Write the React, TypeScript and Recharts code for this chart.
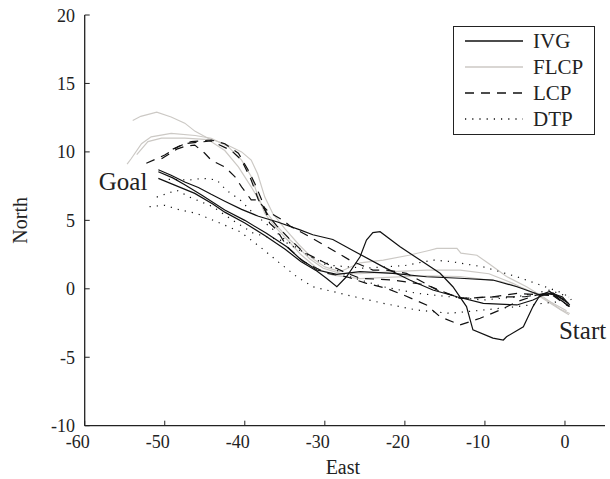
import {
  Label,
  Legend,
  Line,
  LineChart,
  ReferenceDot,
  XAxis,
  YAxis,
} from "recharts";

type Pt = { x: number; y: number };

const FONT = '"Liberation Serif", "Times New Roman", serif';
const INK = "#222";

const X_TICKS = [-60, -50, -40, -30, -20, -10, 0];
const Y_TICKS = [-10, -5, 0, 5, 10, 15, 20];

// trajectories, east / north in metres, goal end first
const ivgRun1: [number, number][] = [
  [-50.8, 8.7], [-49.2, 8.3], [-47.5, 7.8], [-45.8, 7.4], [-44.2, 6.9],
  [-42.5, 6.4], [-40.4, 5.8], [-38.3, 5.3], [-36, 4.9], [-33.1, 4.3],
  [-31.5, 3.95], [-29, 3.6], [-26.5, 2.8], [-22.7, 1.6], [-19.4, 0.64],
  [-16.5, -0.09], [-13.5, -0.58], [-10.2, -1.06], [-6, -1.18], [-4, -0.82],
  [-2.7, -0.45], [-1.5, -0.35], [-0.3, -0.6], [0.6, -1.2],
];
const ivgRun2: [number, number][] = [
  [-50.8, 8.55], [-49, 8.1], [-47.5, 7.6], [-45.4, 6.85], [-42.5, 5.76],
  [-40, 5.0], [-37.3, 4.05], [-34.75, 3.07], [-33.1, 2.2], [-31, 1.37],
  [-28.5, 1.05], [-25.6, 1.25], [-21.5, 1.13], [-17.3, 0.88], [-13.1, 0.77],
  [-9, 0.64], [-6, 0.15], [-3.1, -0.45], [-1.5, -0.3], [0.5, -1.1],
];
const ivgRun3: [number, number][] = [
  [-50.8, 8.07], [-48.3, 7.46], [-46.25, 6.97], [-44, 6.2], [-42.5, 5.6],
  [-40, 4.8], [-37.5, 3.9], [-35, 2.9], [-33, 2.0], [-31, 1.3],
  [-29.8, 0.77], [-28.5, 0.15], [-27.3, 0.88], [-25.6, 2.34], [-24.8, 3.56],
  [-24, 4.1], [-23.1, 4.17], [-20.6, 3.07], [-18.1, 2.1], [-15.6, 1.13],
  [-14, 0.15], [-12.3, -1.3], [-11.5, -3.0], [-9, -3.6], [-7.7, -3.74],
  [-7.3, -3.5], [-5.2, -2.77], [-4, -1.3], [-3.1, -0.45], [-1.9, -0.2],
  [-0.6, -0.8], [0.6, -1.3],
];

const flcpRun1: [number, number][] = [
  [-54, 12.3], [-53, 12.6], [-51, 12.9], [-49.2, 12.55], [-47.5, 12.1],
  [-46.2, 11.5], [-44.6, 11.0], [-42.5, 10.6], [-40.4, 10.0], [-39.2, 9.4],
  [-38.4, 8.4], [-37.5, 6.7], [-36.5, 5.5], [-35, 4.4], [-33.2, 3.2],
  [-31.5, 2.2], [-30, 1.6], [-28.1, 1.25], [-25.6, 1.9], [-22.7, 2.1],
  [-19.5, 2.45], [-17, 2.8], [-16, 2.95], [-13.5, 2.95], [-13, 2.6],
  [-11, 2.45], [-9.4, 1.8], [-7.3, 0.9], [-4.8, 0.15], [-2.7, -0.6],
  [-0.6, -1.5], [0.6, -1.8],
];
const flcpRun2: [number, number][] = [
  [-54.7, 9.1], [-54.2, 9.5], [-52.9, 10.6], [-51.7, 11.1], [-49.2, 11.35],
  [-46.2, 11.2], [-44.2, 11.0], [-42.1, 10.4], [-40.4, 9.4], [-39.2, 8.2],
  [-38.3, 6.7], [-37.5, 5.5], [-36, 4.4], [-34.4, 3.4], [-33, 2.5],
  [-31, 1.5], [-29, 1.0], [-25.6, 0.75], [-21.5, 0.85], [-17.3, 0.95],
  [-13.1, 0.9], [-8.1, 0.55], [-5, 0], [-2.3, -0.8], [0.2, -1.6],
];
const flcpRun3: [number, number][] = [
  [-53.5, 9.8], [-52.1, 10.75], [-50.4, 11.0], [-47.5, 11.0], [-44.6, 10.9],
  [-42.5, 10.1], [-40.8, 8.9], [-39.2, 7.45], [-37.5, 5.75], [-36, 4.6],
  [-34.4, 3.6], [-33.1, 2.9], [-31.9, 2.2], [-30.2, 1.5], [-28.1, 1.13],
  [-25.6, 1.1], [-21.5, 1.25], [-17.3, 1.37], [-13.1, 1.37], [-9.5, 1.1],
  [-6.5, 0.4], [-3.1, -0.58], [-0.5, -1.55], [0.5, -1.9],
];

const lcpRun1: [number, number][] = [
  [-52.3, 9.17], [-50, 9.77], [-48.3, 10.4], [-46.7, 10.75], [-44.2, 10.87],
  [-42.5, 10.6], [-40.8, 9.9], [-39.6, 8.7], [-38.75, 7.7], [-37.9, 6.5],
  [-36.9, 4.8], [-36, 4.3], [-34.75, 3.1], [-32.7, 2.0], [-29.8, 1.13],
  [-27.3, 0.88], [-24.8, 0.4], [-22.3, 0.04], [-20.2, -0.45], [-17.3, -1.18],
  [-15.6, -2.04], [-13.1, -2.64], [-10.6, -2.15], [-8.1, -1.55], [-6, -0.94],
  [-3.5, -0.45], [-1.5, -0.4], [0.3, -1.2],
];
const lcpRun2: [number, number][] = [
  [-50.4, 9.5], [-48.5, 10.2], [-47.5, 10.4], [-46.25, 10.5], [-45, 9.9],
  [-44.2, 9.4], [-42.5, 8.9], [-41.25, 8.2], [-40.4, 7.45], [-39.2, 6.5],
  [-38.5, 6.5], [-37, 5.6], [-35.2, 5.0], [-34.4, 4.6], [-31.9, 3.8],
  [-29.8, 3.1], [-26.9, 2.1], [-24, 1.37], [-22.3, 1.37], [-19.8, 1.13],
  [-15.6, -0.2], [-12.7, -0.7], [-9, -0.58], [-6, -0.33], [-3.1, -0.45],
  [-1, -0.5], [0.5, -1.0],
];
const lcpRun3: [number, number][] = [
  [-49, 10.2], [-47.5, 10.6], [-44.2, 10.8], [-41.7, 10.1], [-40.4, 9.4],
  [-39.2, 7.95], [-38.3, 6.5], [-37, 5.3], [-36, 4.6], [-34.5, 3.7],
  [-32.7, 2.7], [-30, 1.9], [-27.5, 1.2], [-25.6, 0.77], [-21.5, 0.64],
  [-17.3, 0.28], [-13.1, -0.7], [-9, -0.6], [-5, -0.58], [-2, -0.3],
  [0.5, -1.3],
];

const dtpRun1: [number, number][] = [
  [-49.5, 8.0], [-46.9, 7.95], [-45.25, 8.07], [-43.5, 7.95], [-42.3, 7.2],
  [-40.6, 6.5], [-38.9, 5.5], [-37, 4.6], [-35, 3.6], [-32, 2.4],
  [-29, 1.7], [-25, 1.5], [-20, 1.7], [-16.5, 2.1], [-14.4, 2.0],
  [-10.2, 1.6], [-6, 0.88], [-3.1, 0.28], [-0.2, -0.33], [0.8, -0.8],
];
const dtpRun2: [number, number][] = [
  [-51, 6.7], [-48.5, 7.2], [-46.9, 6.7], [-44, 6.0], [-41.5, 5.0],
  [-38.9, 4.05], [-35.2, 3.5], [-31, 2.1], [-26.9, 0.88], [-22.7, 0.15],
  [-18.5, -0.33], [-14.4, -0.58], [-10.2, -0.82], [-6, -0.58], [-1.9, -0.1],
  [0.5, -0.6],
];
const dtpRun3: [number, number][] = [
  [-51.9, 6.0], [-50, 6.1], [-48.1, 5.76], [-46, 5.5], [-43.1, 4.8],
  [-40.6, 4.17], [-38.1, 3.07], [-35.6, 1.86], [-33.5, 0.88], [-31.5, 0.15],
  [-29, -0.2], [-26.9, -0.5], [-22.7, -1.06], [-18.5, -1.55], [-14.4, -1.79],
  [-10.2, -1.55], [-6, -1.3], [-2.7, -1.06], [0, -0.9],
];

const toPts = (run: [number, number][]): Pt[] =>
  run.map(([x, y]) => ({ x, y }));

type Method = {
  name: string;
  stroke: string;
  dash?: string;
  runs: [number, number][][];
};

const METHODS: Method[] = [
  { name: "IVG", stroke: "#111", runs: [ivgRun1, ivgRun2, ivgRun3] },
  { name: "FLCP", stroke: "#ccc9c5", runs: [flcpRun1, flcpRun2, flcpRun3] },
  { name: "LCP", stroke: "#111", dash: "9 7", runs: [lcpRun1, lcpRun2, lcpRun3] },
  { name: "DTP", stroke: "#111", dash: "1.2 6", runs: [dtpRun1, dtpRun2, dtpRun3] },
];

// draw order: gray first so the black runs sit on top
const DRAW_ORDER = ["FLCP", "DTP", "LCP", "IVG"];

function XTick(props: any) {
  const { x, y, payload } = props;
  const v = payload.value as number;
  return (
    <text
      x={x + (v < 0 ? -7 : 0)}
      y={y}
      dy={17}
      textAnchor="middle"
      fontFamily={FONT}
      fontSize={18}
      fill={INK}
    >
      {v}
    </text>
  );
}

function YTick(props: any) {
  const { x, y, payload } = props;
  return (
    <text
      x={x}
      y={y}
      dy={6.5}
      textAnchor="end"
      fontFamily={FONT}
      fontSize={18}
      fill={INK}
    >
      {payload.value}
    </text>
  );
}

function LegendBox() {
  return (
    <div
      style={{
        width: 142,
        height: 109,
        boxSizing: "border-box",
        border: `1.4px solid ${INK}`,
        background: "#fff",
      }}
    >
      <svg width={140} height={107}>
        {METHODS.map((m, i) => {
          const cy = 14 + i * 26;
          return (
            <g key={m.name}>
              <line
                x1={11}
                x2={69}
                y1={cy}
                y2={cy}
                stroke={m.stroke}
                strokeWidth={1.3}
                strokeDasharray={m.dash}
              />
              <text
                x={79}
                y={cy + 7}
                fontFamily={FONT}
                fontSize={21}
                fill={INK}
              >
                {m.name}
              </text>
            </g>
          );
        })}
      </svg>
    </div>
  );
}

function PlaceLabel(text: string) {
  return (props: any) => {
    const { viewBox } = props;
    return (
      <text
        x={viewBox.x + viewBox.width / 2}
        y={viewBox.y + viewBox.height / 2}
        dy={8}
        textAnchor="middle"
        fontFamily={FONT}
        fontSize={25}
        fill={INK}
      >
        {text}
      </text>
    );
  };
}

export default function App() {
  const ordered = DRAW_ORDER.map((n) => METHODS.find((m) => m.name === n)!);
  return (
    <div style={{ position: "absolute", left: 0, top: 0, background: "#fff" }}>
      <LineChart
        width={610}
        height={479}
        margin={{ top: 15, right: 5, bottom: 0, left: 0 }}
      >
        <XAxis
          dataKey="x"
          type="number"
          domain={[-60, 5]}
          ticks={X_TICKS}
          allowDataOverflow
          height={53.3}
          tickSize={-5}
          tickMargin={10}
          tick={<XTick />}
          axisLine={{ stroke: INK, strokeWidth: 1.3 }}
          tickLine={{ stroke: INK, strokeWidth: 1 }}
        >
          <Label
            content={(p: any) => (
              <text
                x={p.viewBox.x + p.viewBox.width / 2 - 2}
                y={474}
                textAnchor="middle"
                fontFamily={FONT}
                fontSize={20}
                fill={INK}
              >
                East
              </text>
            )}
          />
        </XAxis>
        <YAxis
          dataKey="y"
          type="number"
          domain={[-10, 20]}
          ticks={Y_TICKS}
          allowDataOverflow
          width={84.7}
          tickSize={-5}
          tickMargin={14.7}
          tick={<YTick />}
          axisLine={{ stroke: INK, strokeWidth: 1.3 }}
          tickLine={{ stroke: INK, strokeWidth: 1 }}
        >
          <Label
            content={(p: any) => {
              const cx = 20;
              const cy = p.viewBox.y + p.viewBox.height / 2;
              return (
                <text
                  x={cx}
                  y={cy}
                  transform={`rotate(-90 ${cx} ${cy})`}
                  textAnchor="middle"
                  dominantBaseline="central"
                  fontFamily={FONT}
                  fontSize={20}
                  fill={INK}
                >
                  North
                </text>
              );
            }}
          />
        </YAxis>
        {ordered.flatMap((m) =>
          m.runs.map((run, i) => (
            <Line
              key={`${m.name}-${i}`}
              data={toPts(run)}
              dataKey="y"
              type="linear"
              stroke={m.stroke}
              strokeWidth={1.2}
              strokeDasharray={m.dash}
              dot={false}
              activeDot={false}
              isAnimationActive={false}
              legendType="none"
            />
          ))
        )}
        <ReferenceDot
          x={-55.2}
          y={7.8}
          r={0}
          ifOverflow="visible"
          label={PlaceLabel("Goal")}
        />
        <ReferenceDot
          x={2.2}
          y={-3.1}
          r={0}
          ifOverflow="visible"
          label={PlaceLabel("Start")}
        />
        <Legend
          layout="vertical"
          align="center"
          verticalAlign="middle"
          content={<LegendBox />}
          wrapperStyle={{ top: 26, left: 453, width: 142, height: 109 }}
        />
      </LineChart>
    </div>
  );
}
